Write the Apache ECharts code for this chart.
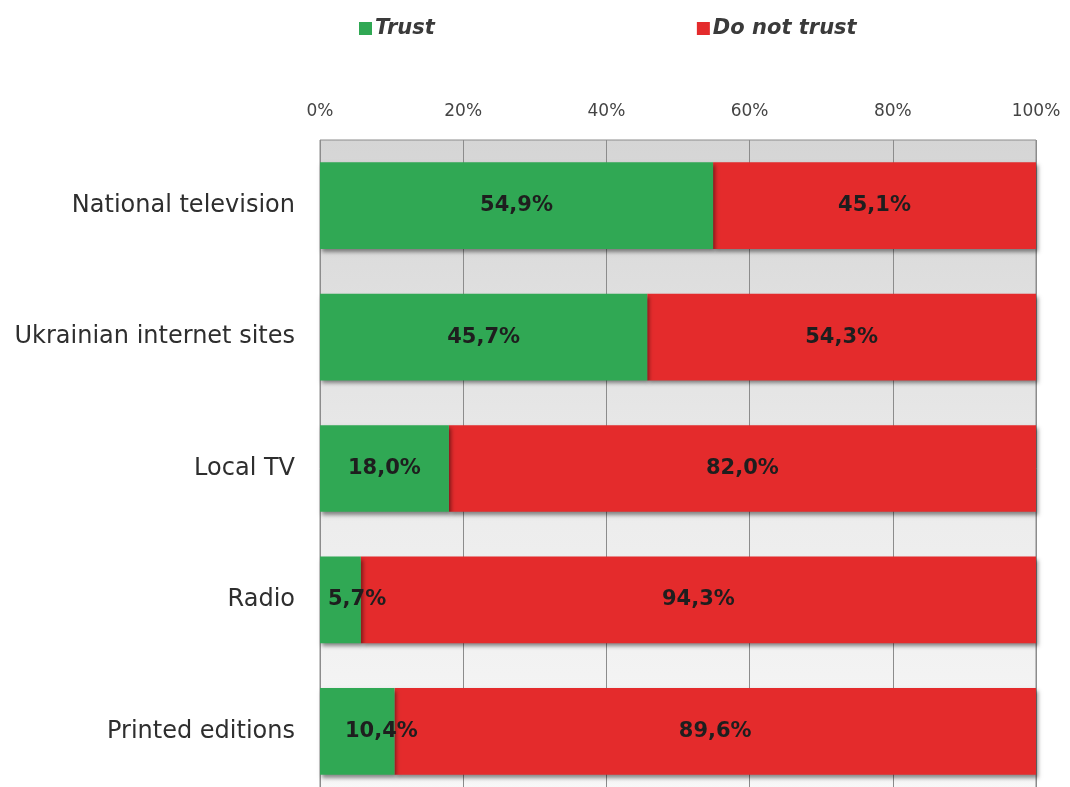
<!DOCTYPE html>
<html>
<head>
<meta charset="utf-8">
<script src="https://cdn.jsdelivr.net/npm/echarts@6/dist/echarts.min.js"></script>
<style>
  html, body { margin: 0; padding: 0; background: #ffffff; overflow: hidden; }
  /* the plot runs past the bottom edge of the window */
  #chart { width: 1070px; height: 800px; }
</style>
</head>
<body>
<div id="chart"></div>
<script>
// Media sources, top to bottom
const categories = ['National television', 'Ukrainian internet sites', 'Local TV', 'Radio', 'Printed editions'];
// Share of respondents, %
const trustValues = [54.9, 45.7, 18.0, 5.7, 10.4];
const distrustValues = [45.1, 54.3, 82.0, 94.3, 89.6];
const seriesNames = ['Trust', 'Do not trust'];
const tickValues = [0, 20, 40, 60, 80, 100];

const GREEN = '#30a854';
const RED = '#e42b2c';
const FONT = 'DejaVu Sans';

const fmt = v => v.toFixed(1).replace('.', ',') + '%';

const barShadow = {
  shadowColor: 'rgba(0,0,0,0.45)',
  shadowBlur: 4,
  shadowOffsetX: 2,
  shadowOffsetY: 3
};

const labelStyle = {
  show: true,
  position: 'inside',
  color: '#1e1e1e',
  fontFamily: FONT,
  fontWeight: 'bold',
  fontSize: 21,
  formatter: p => fmt(p.value)
};

// narrow green segments: nudge their labels to the right
const trustData = trustValues.map(v => v < 12
  ? { value: v, label: { position: 'insideLeft', distance: v < 8 ? 8 : 25 } }
  : v);

const chart = echarts.init(document.getElementById('chart'), null, { renderer: 'canvas' });

chart.setOption({
  animation: false,
  backgroundColor: '#ffffff',
  legend: {
    data: seriesNames,
    left: 354,
    top: 13,
    itemGap: 262,
    itemWidth: 13,
    itemHeight: 13,
    icon: 'rect',
    textStyle: {
      fontFamily: FONT,
      fontStyle: 'italic',
      fontWeight: 'bold',
      fontSize: 21,
      color: '#3a3a3a',
      padding: [0, 0, 0, -2]
    }
  },
  grid: {
    left: 320,
    top: 140,
    width: 716,
    height: 657,
    show: true,
    borderColor: '#8c8c8c',
    borderWidth: 1,
    backgroundColor: {
      type: 'linear', x: 0, y: 0, x2: 0, y2: 1,
      colorStops: [
        { offset: 0, color: '#d5d5d5' },
        { offset: 0.55, color: '#ececec' },
        { offset: 1, color: '#f8f8f8' }
      ]
    }
  },
  xAxis: {
    type: 'value',
    position: 'top',
    min: 0,
    max: 100,
    interval: 20,
    axisLine: { show: false },
    axisTick: { show: false },
    splitLine: { show: true, lineStyle: { color: '#8c8c8c', width: 1 } },
    axisLabel: {
      margin: 20,
      fontFamily: FONT,
      fontSize: 17,
      color: '#444',
      formatter: v => tickValues.includes(v) ? v + '%' : ''
    }
  },
  yAxis: {
    type: 'category',
    data: categories,
    inverse: true,
    axisLine: { show: false },
    axisTick: { show: false },
    splitLine: { show: false },
    axisLabel: {
      margin: 25,
      fontFamily: FONT,
      fontSize: 24,
      color: '#2e2e2e'
    }
  },
  series: [
    {
      name: seriesNames[0],
      type: 'bar',
      stack: 'total',
      barWidth: '66%',
      data: trustData,
      itemStyle: Object.assign({ color: GREEN }, barShadow),
      label: labelStyle,
      z: 3
    },
    {
      name: seriesNames[1],
      type: 'bar',
      stack: 'total',
      barWidth: '66%',
      data: distrustValues,
      itemStyle: Object.assign({ color: RED }, barShadow),
      label: labelStyle,
      z: 2
    }
  ]
});
</script>
</body>
</html>
